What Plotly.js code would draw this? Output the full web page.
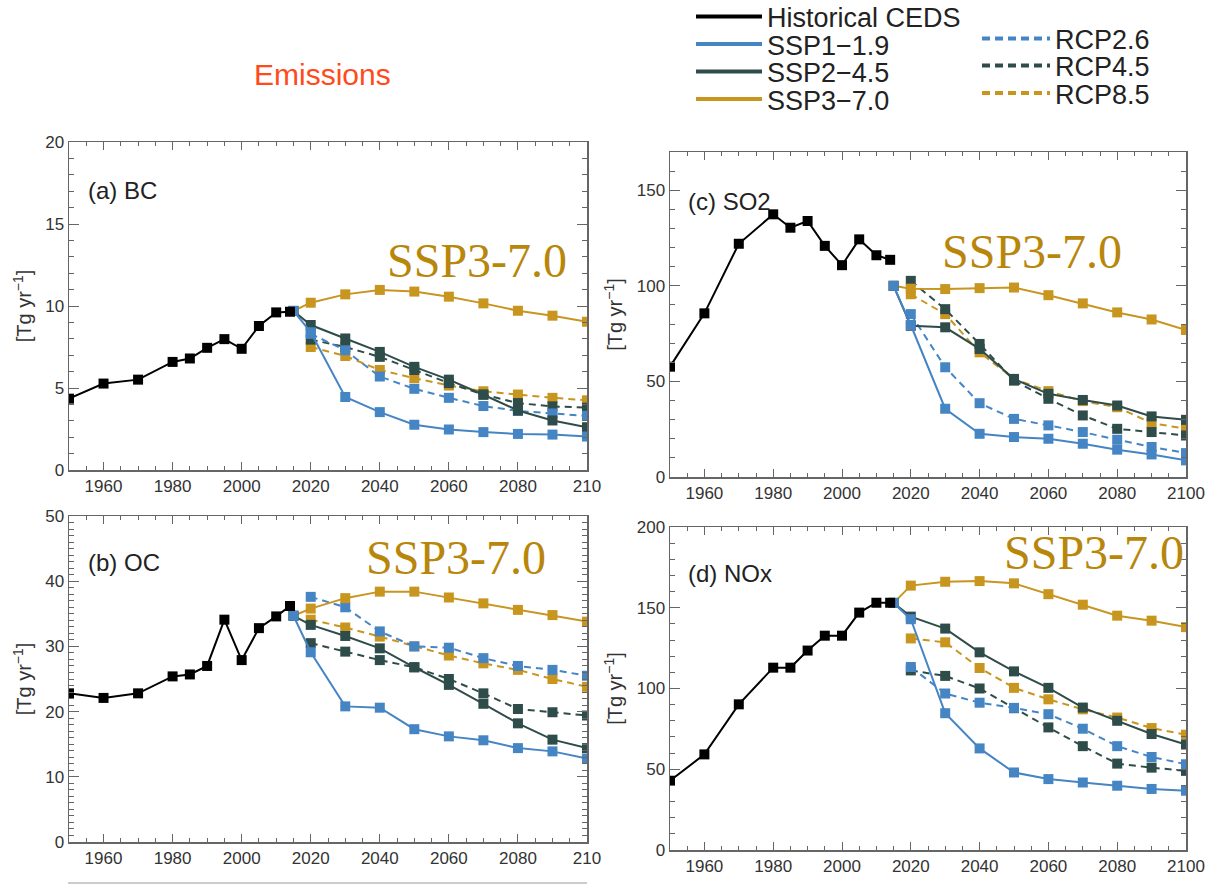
<!DOCTYPE html>
<html>
<head>
<meta charset="utf-8">
<script src="https://cdn.plot.ly/plotly-3.0.1.min.js"></script>
<style>html,body{margin:0;padding:0;background:#fff;}#chart{width:1209px;height:886px;}</style>
</head>
<body>
<div id="chart"></div>
<script>
// ---------------- DATA ----------------
const histYears = [1950, 1960, 1970, 1980, 1985, 1990, 1995, 2000, 2005, 2010, 2014];
const sspYears  = [2015, 2020, 2030, 2040, 2050, 2060, 2070, 2080, 2090, 2100];
const rcpYears  = [2020, 2030, 2040, 2050, 2060, 2070, 2080, 2090, 2100];

// (a) BC
const bcHist   = [4.35, 5.27, 5.51, 6.59, 6.80, 7.45, 7.98, 7.39, 8.78, 9.61, 9.65];
const bcSSP119 = [9.7, 8.4, 4.45, 3.53, 2.76, 2.47, 2.31, 2.20, 2.16, 2.04];
const bcSSP245 = [9.7, 8.84, 8.02, 7.20, 6.29, 5.51, 4.59, 3.63, 3.02, 2.61];
const bcSSP370 = [9.7, 10.2, 10.71, 10.98, 10.88, 10.57, 10.16, 9.71, 9.41, 9.04];
const bcRCP26  = [8.3, 7.3, 5.7, 4.95, 4.4, 3.9, 3.6, 3.45, 3.3];
const bcRCP45  = [7.95, 7.5, 6.9, 6.1, 5.3, 4.6, 4.08, 3.88, 3.8];
const bcRCP85  = [7.5, 6.95, 6.1, 5.6, 5.15, 4.8, 4.6, 4.4, 4.25];

// (b) OC
const ocHist   = [22.8, 22.1, 22.8, 25.4, 25.7, 27.0, 34.1, 27.9, 32.8, 34.6, 36.2];
const ocSSP119 = [34.7, 29.1, 20.8, 20.6, 17.3, 16.2, 15.6, 14.4, 13.9, 12.8];
const ocSSP245 = [34.7, 33.3, 31.6, 29.7, 26.8, 24.1, 21.2, 18.2, 15.7, 14.4];
const ocSSP370 = [34.7, 35.8, 37.4, 38.4, 38.4, 37.5, 36.6, 35.6, 34.8, 33.8];
const ocRCP26  = [37.6, 36.0, 32.3, 30.0, 29.8, 28.2, 27.0, 26.4, 25.5];
const ocRCP45  = [30.5, 29.2, 27.9, 26.8, 25.0, 22.8, 20.4, 19.9, 19.4];
const ocRCP85  = [34.1, 32.9, 31.5, 30.0, 28.6, 27.4, 26.4, 25.0, 23.8];

// (c) SO2
const so2Hist   = [57.7, 85.6, 122.0, 137.4, 130.4, 133.9, 120.9, 110.8, 124.3, 116.0, 113.6];
const so2SSP119 = [100, 79.5, 35.7, 22.6, 20.9, 20.0, 17.4, 14.3, 11.8, 8.7];
const so2SSP245 = [100, 79.1, 78.3, 67.0, 51.3, 43.5, 40.3, 37.4, 31.7, 29.9];
const so2SSP370 = [100, 98.5, 98.3, 98.8, 99.1, 95.1, 90.8, 86.1, 82.4, 76.9];
const so2RCP26  = [85.2, 57.4, 38.6, 30.4, 27.0, 23.5, 19.5, 15.7, 12.5];
const so2RCP45  = [102.6, 87.8, 69.6, 50.4, 40.9, 32.2, 25.2, 23.5, 21.7];
const so2RCP85  = [95.6, 85.2, 65.2, 51.3, 44.9, 39.7, 36.5, 28.2, 25.2];

// (d) NOx
const noxHist   = [42.9, 59.2, 90.2, 112.9, 112.9, 123.5, 132.7, 132.7, 147.0, 153.1, 153.1];
const noxSSP119 = [153, 142.9, 84.7, 62.9, 48.0, 43.9, 41.8, 39.8, 37.8, 36.7];
const noxSSP245 = [153, 144.5, 137.1, 122.4, 110.6, 100.4, 88.2, 80.0, 71.8, 65.3];
const noxSSP370 = [153, 163.7, 166.1, 166.5, 165.1, 158.4, 151.9, 145.1, 142.0, 138.0];
const noxRCP26  = [113.3, 96.9, 91.2, 88.0, 84.1, 75.1, 64.3, 57.6, 53.1];
const noxRCP45  = [111.2, 107.8, 100.0, 87.8, 75.9, 64.3, 53.5, 51.0, 49.0];
const noxRCP85  = [131.0, 128.6, 112.7, 100.4, 93.3, 87.1, 82.0, 75.5, 71.4];

const panelLabels = ['(a) BC', '(b) OC', '(c) SO2', '(d) NOx'];
const seriesNames = ['Historical CEDS', 'SSP1\u22121.9', 'SSP2\u22124.5', 'SSP3\u22127.0', 'RCP2.6', 'RCP4.5', 'RCP8.5'];
const xTickVals = [1960, 1980, 2000, 2020, 2040, 2060, 2080, 2100];
const xTickTextCut = ['1960', '1980', '2000', '2020', '2040', '2060', '2080', '210'];
const xTickTextFull = ['1960', '1980', '2000', '2020', '2040', '2060', '2080', '2100'];

// ---------------- STYLE ----------------
const C = {hist: '#000000', ssp1: '#4585C4', ssp2: '#2E4C49', ssp3: '#C8951F'};
const gold = '#B8860B';
const axisColor = '#666666';
const W = 1209, H = 886;
const px = v => v / W;
const py = v => 1 - v / H;

const panels = [
  {ax: '', hist: bcHist, s1: bcSSP119, s2: bcSSP245, s3: bcSSP370, r26: bcRCP26, r45: bcRCP45, r85: bcRCP85},
  {ax: '2', hist: ocHist, s1: ocSSP119, s2: ocSSP245, s3: ocSSP370, r26: ocRCP26, r45: ocRCP45, r85: ocRCP85},
  {ax: '3', hist: so2Hist, s1: so2SSP119, s2: so2SSP245, s3: so2SSP370, r26: so2RCP26, r45: so2RCP45, r85: so2RCP85},
  {ax: '4', hist: noxHist, s1: noxSSP119, s2: noxSSP245, s3: noxSSP370, r26: noxRCP26, r45: noxRCP45, r85: noxRCP85}
];

const traces = [];
function tr(x, y, color, dash, p, name) {
  return {
    x: x, y: y, type: 'scatter', mode: 'lines+markers', name: name,
    xaxis: 'x' + p.ax, yaxis: 'y' + p.ax, showlegend: false,
    line: {color: color, width: 2, dash: dash},
    marker: {symbol: 'square', size: 10, color: color},
    hoverinfo: 'x+y+name'
  };
}
panels.forEach(p => {
  traces.push(tr(rcpYears, p.r85, C.ssp3, '7px,5px', p, seriesNames[6]));
  traces.push(tr(rcpYears, p.r45, C.ssp2, '7px,5px', p, seriesNames[5]));
  traces.push(tr(rcpYears, p.r26, C.ssp1, '7px,5px', p, seriesNames[4]));
  traces.push(tr(sspYears, p.s3, C.ssp3, 'solid', p, seriesNames[3]));
  traces.push(tr(sspYears, p.s2, C.ssp2, 'solid', p, seriesNames[2]));
  traces.push(tr(sspYears, p.s1, C.ssp1, 'solid', p, seriesNames[1]));
  traces.push(tr(histYears, p.hist, C.hist, 'solid', p, seriesNames[0]));
});

// legend-only entries (one legend per row)
const legendDefs = [
  {name: seriesNames[0], color: C.hist, dash: 'solid', leg: 'legend',  x: 691, y: 17, iw: 66},
  {name: seriesNames[1], color: C.ssp1, dash: 'solid', leg: 'legend2', x: 691, y: 44.5, iw: 66},
  {name: seriesNames[2], color: C.ssp2, dash: 'solid', leg: 'legend3', x: 691, y: 72, iw: 66},
  {name: seriesNames[3], color: C.ssp3, dash: 'solid', leg: 'legend4', x: 691, y: 99.5, iw: 66},
  {name: seriesNames[4], color: C.ssp1, dash: '8px,5px', leg: 'legend5', x: 977, y: 39, iw: 68},
  {name: seriesNames[5], color: C.ssp2, dash: '8px,5px', leg: 'legend6', x: 977, y: 66, iw: 68},
  {name: seriesNames[6], color: C.ssp3, dash: '8px,5px', leg: 'legend7', x: 977, y: 93.5, iw: 68}
];
legendDefs.forEach(d => {
  traces.push({
    x: [null], y: [null], type: 'scatter', mode: 'lines', name: d.name,
    line: {color: d.color, width: 4, dash: d.dash}, legend: d.leg,
    showlegend: true, hoverinfo: 'skip', xaxis: 'x', yaxis: 'y'
  });
});

function xaxis(domain, ticktext, anchor) {
  return {
    domain: domain, range: [1950, 2100], anchor: anchor,
    tickmode: 'array', tickvals: xTickVals, ticktext: ticktext,
    ticks: 'inside', ticklen: 8, tickwidth: 1, tickcolor: axisColor,
    minor: {dtick: 5, tick0: 1950, ticks: 'inside', ticklen: 4, tickcolor: axisColor},
    showline: true, linecolor: axisColor, linewidth: 1.5, mirror: 'ticks',
    showgrid: false, zeroline: false,
    tickfont: {family: 'Liberation Sans, Arial, sans-serif', size: 17, color: '#333'}
  };
}
function yaxis(domain, range, dtick, minorDtick, anchor) {
  return {
    domain: domain, range: range, anchor: anchor,
    tick0: 0, dtick: dtick,
    ticks: 'inside', ticklen: 10, tickwidth: 1, tickcolor: axisColor,
    minor: {dtick: minorDtick, tick0: 0, ticks: 'inside', ticklen: 5, tickcolor: axisColor},
    showline: true, linecolor: axisColor, linewidth: 1.5, mirror: 'ticks',
    showgrid: false, zeroline: false,
    tickfont: {family: 'Liberation Sans, Arial, sans-serif', size: 17, color: '#333'},
    title: {text: '[Tg yr<sup>\u22121</sup>]', standoff: 8, font: {family: 'Liberation Sans, Arial, sans-serif', size: 20, color: '#333'}}
  };
}

const dxLeft = [px(69), px(587)];
const dxRight = [px(670), px(1186)];

const layout = {
  width: W, height: H,
  margin: {l: 0, r: 0, t: 0, b: 0, autoexpand: false},
  paper_bgcolor: '#ffffff', plot_bgcolor: '#ffffff',
  font: {family: 'Liberation Sans, Arial, sans-serif', color: '#222'},
  xaxis:  xaxis(dxLeft, xTickTextCut, 'y'),
  yaxis:  yaxis([py(470), py(142)], [0, 20], 5, 1, 'x'),
  xaxis2: xaxis(dxLeft, xTickTextCut, 'y2'),
  yaxis2: yaxis([py(842), py(516)], [0, 50], 10, 1, 'x2'),
  xaxis3: xaxis(dxRight, xTickTextFull, 'y3'),
  yaxis3: yaxis([py(477), py(152)], [0, 170], 50, 10, 'x3'),
  xaxis4: xaxis(dxRight, xTickTextFull, 'y4'),
  yaxis4: yaxis([py(850), py(527)], [0, 200], 50, 10, 'x4'),
  annotations: [],
  shapes: [
    {type: 'line', xref: 'paper', yref: 'paper', x0: px(68), x1: px(587), y0: py(883), y1: py(883), line: {color: '#bbbbbb', width: 1.5}}
  ]
};

legendDefs.forEach(d => {
  layout[d.leg] = {
    x: px(d.x), y: py(d.y), xref: 'paper', yref: 'paper', xanchor: 'left', yanchor: 'middle',
    bgcolor: 'rgba(0,0,0,0)', borderwidth: 0, itemwidth: d.iw,
    font: {family: 'Liberation Sans, Arial, sans-serif', size: 27, color: '#222'},
    itemclick: false, itemdoubleclick: false
  };
});

// title
layout.annotations.push({
  text: 'Emissions', xref: 'paper', yref: 'paper', x: px(322), y: py(75),
  xanchor: 'center', yanchor: 'middle', showarrow: false,
  font: {family: 'Liberation Sans, Arial, sans-serif', size: 30, color: '#FF4A1C'}
});
// panel labels
const labelPos = [[86, 190], [86, 562], [686, 202], [686, 573]];
panelLabels.forEach((t, i) => {
  layout.annotations.push({
    text: t, xref: 'paper', yref: 'paper', x: px(labelPos[i][0]), y: py(labelPos[i][1]),
    xanchor: 'left', yanchor: 'middle', showarrow: false,
    font: {family: 'Liberation Sans, Arial, sans-serif', size: 24, color: '#222'}
  });
});
// SSP3-7.0 labels
const sspLabelPos = [[385, 261], [364, 557], [940, 251], [1002, 552]];
sspLabelPos.forEach(p => {
  layout.annotations.push({
    text: 'SSP3-7.0', xref: 'paper', yref: 'paper', x: px(p[0]), y: py(p[1]),
    xanchor: 'left', yanchor: 'middle', showarrow: false,
    font: {family: 'Liberation Serif, Times New Roman, serif', size: 48, color: gold}
  });
});

Plotly.newPlot('chart', traces, layout, {displayModeBar: false, staticPlot: true});
</script>
</body>
</html>
